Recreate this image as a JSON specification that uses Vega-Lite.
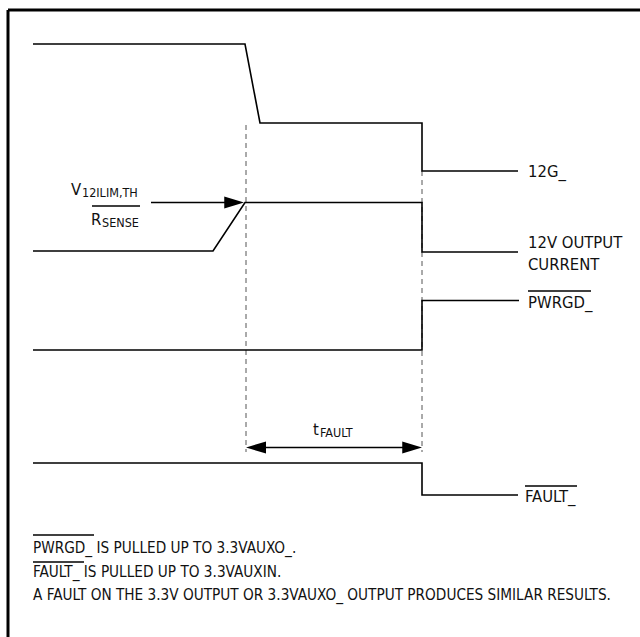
{
  "$schema": "https://vega.github.io/schema/vega-lite/v6.json",
  "width": 640,
  "height": 637,
  "autosize": "none",
  "padding": 0,
  "background": "white",
  "config": {"view": {"stroke": null}, "font": "DejaVu Sans Condensed, Roboto, sans-serif"},
  "datasets": {
    "signals": [
      {"s": "12G", "o": 1, "x": 33, "y": 44}, {"s": "12G", "o": 2, "x": 245, "y": 44}, {"s": "12G", "o": 3, "x": 260, "y": 123}, {"s": "12G", "o": 4, "x": 422, "y": 123}, {"s": "12G", "o": 5, "x": 422, "y": 171}, {"s": "12G", "o": 6, "x": 518, "y": 171},
      {"s": "I", "o": 1, "x": 33, "y": 251}, {"s": "I", "o": 2, "x": 213, "y": 251}, {"s": "I", "o": 3, "x": 245, "y": 202.5}, {"s": "I", "o": 4, "x": 422, "y": 202.5}, {"s": "I", "o": 5, "x": 422, "y": 252}, {"s": "I", "o": 6, "x": 518, "y": 252},
      {"s": "PWRGD", "o": 1, "x": 33, "y": 350}, {"s": "PWRGD", "o": 2, "x": 422, "y": 350}, {"s": "PWRGD", "o": 3, "x": 422, "y": 300.5}, {"s": "PWRGD", "o": 4, "x": 519, "y": 300.5},
      {"s": "FAULT", "o": 1, "x": 33, "y": 463}, {"s": "FAULT", "o": 2, "x": 422, "y": 463}, {"s": "FAULT", "o": 3, "x": 422, "y": 495}, {"s": "FAULT", "o": 4, "x": 518, "y": 495}
    ],
    "dashed": [
      {"x": 246, "y": 125, "y2": 452},
      {"x": 422, "y": 171, "y2": 452}
    ],
    "thin": [
      {"x": 151, "x2": 230, "y": 202.5},
      {"x": 255, "x2": 412, "y": 447.5},
      {"x": 92, "x2": 140, "y": 206},
      {"x": 528, "x2": 591, "y": 291},
      {"x": 525, "x2": 577, "y": 486},
      {"x": 33, "x2": 94, "y": 535},
      {"x": 33, "x2": 84, "y": 562}
    ],
    "border": [
      {"x": 8, "x2": 642, "y": 10, "y2": 10},
      {"x": 8, "x2": 8, "y": 10, "y2": 640}
    ],
    "arrowsR": [
      {"x": 244, "y": 202.5},
      {"x": 422, "y": 447.5}
    ],
    "arrowsL": [
      {"x": 246, "y": 447.5}
    ],
    "bigText": [
      {"t": "12G_", "x": 528, "y": 177},
      {"t": "12V OUTPUT", "x": 528, "y": 248},
      {"t": "CURRENT", "x": 528, "y": 270},
      {"t": "PWRGD_", "x": 528, "y": 308},
      {"t": "FAULT_", "x": 525, "y": 502},
      {"t": "V", "x": 71, "y": 195},
      {"t": "R", "x": 91, "y": 225},
      {"t": "t", "x": 313, "y": 435}
    ],
    "subText": [
      {"t": "12ILIM,TH", "x": 82, "y": 197},
      {"t": "SENSE", "x": 102, "y": 227},
      {"t": "FAULT", "x": 320, "y": 437}
    ],
    "notes": [
      {"t": "PWRGD_ IS PULLED UP TO 3.3VAUXO_.", "x": 33, "y": 553},
      {"t": "FAULT_ IS PULLED UP TO 3.3VAUXIN.", "x": 33, "y": 577},
      {"t": "A FAULT ON THE 3.3V OUTPUT OR 3.3VAUXO_ OUTPUT PRODUCES SIMILAR RESULTS.", "x": 33, "y": 600}
    ]
  },
  "layer": [
    {
      "data": {"name": "dashed"},
      "mark": {"type": "rule", "color": "#555555", "strokeWidth": 1, "strokeDash": [5, 4]},
      "encoding": {
        "x": {"field": "x", "type": "quantitative", "scale": {"domain": [0, 640], "nice": false, "zero": false}, "axis": null},
        "y": {"field": "y", "type": "quantitative", "scale": {"domain": [0, 637], "nice": false, "zero": false, "reverse": true}, "axis": null},
        "y2": {"field": "y2"}
      }
    },
    {
      "data": {"name": "signals"},
      "mark": {"type": "line", "color": "black", "strokeWidth": 1.6, "strokeJoin": "miter"},
      "encoding": {
        "x": {"field": "x", "type": "quantitative"},
        "y": {"field": "y", "type": "quantitative"},
        "detail": {"field": "s"},
        "order": {"field": "o"}
      }
    },
    {
      "data": {"name": "thin"},
      "mark": {"type": "rule", "color": "black", "strokeWidth": 1.4},
      "encoding": {
        "x": {"field": "x", "type": "quantitative"},
        "x2": {"field": "x2"},
        "y": {"field": "y", "type": "quantitative"}
      }
    },
    {
      "data": {"name": "border"},
      "mark": {"type": "rule", "color": "black", "strokeWidth": 3},
      "encoding": {
        "x": {"field": "x", "type": "quantitative"},
        "x2": {"field": "x2"},
        "y": {"field": "y", "type": "quantitative"},
        "y2": {"field": "y2"}
      }
    },
    {
      "data": {"name": "arrowsR"},
      "mark": {"type": "point", "filled": true, "color": "black", "opacity": 1, "strokeWidth": 0, "size": 1560, "shape": "M 0 0 L -1 -0.3 L -1 0.3 Z"},
      "encoding": {
        "x": {"field": "x", "type": "quantitative"},
        "y": {"field": "y", "type": "quantitative"}
      }
    },
    {
      "data": {"name": "arrowsL"},
      "mark": {"type": "point", "filled": true, "color": "black", "opacity": 1, "strokeWidth": 0, "size": 1600, "shape": "M 0 0 L 1 -0.3 L 1 0.3 Z"},
      "encoding": {
        "x": {"field": "x", "type": "quantitative"},
        "y": {"field": "y", "type": "quantitative"}
      }
    },
    {
      "data": {"name": "bigText"},
      "mark": {"type": "text", "align": "left", "baseline": "alphabetic", "fontSize": 16.5, "color": "#111111"},
      "encoding": {
        "x": {"field": "x", "type": "quantitative"},
        "y": {"field": "y", "type": "quantitative"},
        "text": {"field": "t"}
      }
    },
    {
      "data": {"name": "subText"},
      "mark": {"type": "text", "align": "left", "baseline": "alphabetic", "fontSize": 12.5, "color": "#111111"},
      "encoding": {
        "x": {"field": "x", "type": "quantitative"},
        "y": {"field": "y", "type": "quantitative"},
        "text": {"field": "t"}
      }
    },
    {
      "data": {"name": "notes"},
      "mark": {"type": "text", "align": "left", "baseline": "alphabetic", "fontSize": 15.2, "color": "#111111"},
      "encoding": {
        "x": {"field": "x", "type": "quantitative"},
        "y": {"field": "y", "type": "quantitative"},
        "text": {"field": "t"}
      }
    }
  ]
}
